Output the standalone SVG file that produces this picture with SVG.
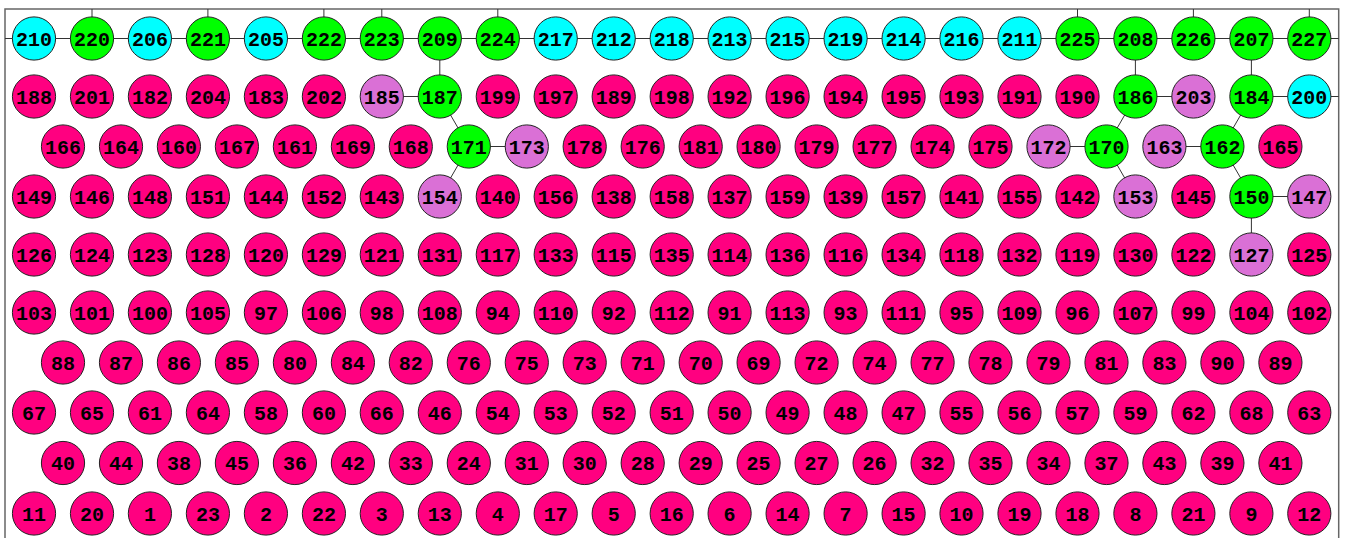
<svg xmlns="http://www.w3.org/2000/svg" width="1345" height="538" viewBox="0 0 1345 538">
<style>
.n circle{stroke:#222;stroke-width:1}
.n text{font-family:"Liberation Mono","Courier New",monospace;font-weight:bold;font-size:20px;text-anchor:middle;fill:#000}
.cy circle{fill:#00ffff}
.gr circle{fill:#00ff00}
.pk circle{fill:#ff0080}
.or circle{fill:#da70d6}
#edges line{stroke:#333;stroke-width:1}
</style>
<rect width="1345" height="538" fill="#fff"/>
<path id="border" d="M5,545 V9 H1338.7 V545" fill="none" stroke="#666" stroke-width="1.5"/>
<g id="edges">
<line x1="5" y1="38.5" x2="1338.7" y2="38.5"/>
<line x1="92" y1="9" x2="92" y2="38.5"/>
<line x1="207.9" y1="9" x2="207.9" y2="38.5"/>
<line x1="323.9" y1="9" x2="323.9" y2="38.5"/>
<line x1="381.8" y1="9" x2="381.8" y2="38.5"/>
<line x1="497.8" y1="9" x2="497.8" y2="38.5"/>
<line x1="1077.5" y1="9" x2="1077.5" y2="38.5"/>
<line x1="1193.4" y1="9" x2="1193.4" y2="38.5"/>
<line x1="1309.3" y1="9" x2="1309.3" y2="38.5"/>
<line x1="439.8" y1="38.5" x2="439.8" y2="96.5"/>
<line x1="1135.4" y1="38.5" x2="1135.4" y2="96.5"/>
<line x1="1251.4" y1="38.5" x2="1251.4" y2="96.5"/>
<line x1="1251.4" y1="196.5" x2="1251.4" y2="254.5"/>
<line x1="381.8" y1="96.5" x2="439.8" y2="96.5"/>
<line x1="468.8" y1="146.5" x2="526.8" y2="146.5"/>
<line x1="1135.4" y1="96.5" x2="1193.4" y2="96.5"/>
<line x1="1048.5" y1="146.5" x2="1106.5" y2="146.5"/>
<line x1="1251.4" y1="96.5" x2="1338.7" y2="96.5"/>
<line x1="1164.4" y1="146.5" x2="1222.4" y2="146.5"/>
<line x1="1251.4" y1="196.5" x2="1309.3" y2="196.5"/>
<line x1="439.8" y1="96.5" x2="468.8" y2="146.5"/>
<line x1="468.8" y1="146.5" x2="439.8" y2="196.5"/>
<line x1="1135.4" y1="96.5" x2="1106.5" y2="146.5"/>
<line x1="1106.5" y1="146.5" x2="1135.4" y2="196.5"/>
<line x1="1251.4" y1="96.5" x2="1222.4" y2="146.5"/>
<line x1="1222.4" y1="146.5" x2="1251.4" y2="196.5"/>
</g>
<g id="nodes">
<g id="n210" class="n cy"><circle cx="34" cy="38.5" r="21.6"/><text x="34" y="45.5">210</text></g>
<g id="n220" class="n gr"><circle cx="92" cy="38.5" r="21.6"/><text x="92" y="45.5">220</text></g>
<g id="n206" class="n cy"><circle cx="149.9" cy="38.5" r="21.6"/><text x="149.9" y="45.5">206</text></g>
<g id="n221" class="n gr"><circle cx="207.9" cy="38.5" r="21.6"/><text x="207.9" y="45.5">221</text></g>
<g id="n205" class="n cy"><circle cx="265.9" cy="38.5" r="21.6"/><text x="265.9" y="45.5">205</text></g>
<g id="n222" class="n gr"><circle cx="323.9" cy="38.5" r="21.6"/><text x="323.9" y="45.5">222</text></g>
<g id="n223" class="n gr"><circle cx="381.8" cy="38.5" r="21.6"/><text x="381.8" y="45.5">223</text></g>
<g id="n209" class="n gr"><circle cx="439.8" cy="38.5" r="21.6"/><text x="439.8" y="45.5">209</text></g>
<g id="n224" class="n gr"><circle cx="497.8" cy="38.5" r="21.6"/><text x="497.8" y="45.5">224</text></g>
<g id="n217" class="n cy"><circle cx="555.7" cy="38.5" r="21.6"/><text x="555.7" y="45.5">217</text></g>
<g id="n212" class="n cy"><circle cx="613.7" cy="38.5" r="21.6"/><text x="613.7" y="45.5">212</text></g>
<g id="n218" class="n cy"><circle cx="671.7" cy="38.5" r="21.6"/><text x="671.7" y="45.5">218</text></g>
<g id="n213" class="n cy"><circle cx="729.6" cy="38.5" r="21.6"/><text x="729.6" y="45.5">213</text></g>
<g id="n215" class="n cy"><circle cx="787.6" cy="38.5" r="21.6"/><text x="787.6" y="45.5">215</text></g>
<g id="n219" class="n cy"><circle cx="845.6" cy="38.5" r="21.6"/><text x="845.6" y="45.5">219</text></g>
<g id="n214" class="n cy"><circle cx="903.6" cy="38.5" r="21.6"/><text x="903.6" y="45.5">214</text></g>
<g id="n216" class="n cy"><circle cx="961.5" cy="38.5" r="21.6"/><text x="961.5" y="45.5">216</text></g>
<g id="n211" class="n cy"><circle cx="1019.5" cy="38.5" r="21.6"/><text x="1019.5" y="45.5">211</text></g>
<g id="n225" class="n gr"><circle cx="1077.5" cy="38.5" r="21.6"/><text x="1077.5" y="45.5">225</text></g>
<g id="n208" class="n gr"><circle cx="1135.4" cy="38.5" r="21.6"/><text x="1135.4" y="45.5">208</text></g>
<g id="n226" class="n gr"><circle cx="1193.4" cy="38.5" r="21.6"/><text x="1193.4" y="45.5">226</text></g>
<g id="n207" class="n gr"><circle cx="1251.4" cy="38.5" r="21.6"/><text x="1251.4" y="45.5">207</text></g>
<g id="n227" class="n gr"><circle cx="1309.3" cy="38.5" r="21.6"/><text x="1309.3" y="45.5">227</text></g>

<g id="n188" class="n pk"><circle cx="34" cy="96.5" r="21.6"/><text x="34" y="103.5">188</text></g>
<g id="n201" class="n pk"><circle cx="92" cy="96.5" r="21.6"/><text x="92" y="103.5">201</text></g>
<g id="n182" class="n pk"><circle cx="149.9" cy="96.5" r="21.6"/><text x="149.9" y="103.5">182</text></g>
<g id="n204" class="n pk"><circle cx="207.9" cy="96.5" r="21.6"/><text x="207.9" y="103.5">204</text></g>
<g id="n183" class="n pk"><circle cx="265.9" cy="96.5" r="21.6"/><text x="265.9" y="103.5">183</text></g>
<g id="n202" class="n pk"><circle cx="323.9" cy="96.5" r="21.6"/><text x="323.9" y="103.5">202</text></g>
<g id="n185" class="n or"><circle cx="381.8" cy="96.5" r="21.6"/><text x="381.8" y="103.5">185</text></g>
<g id="n187" class="n gr"><circle cx="439.8" cy="96.5" r="21.6"/><text x="439.8" y="103.5">187</text></g>
<g id="n199" class="n pk"><circle cx="497.8" cy="96.5" r="21.6"/><text x="497.8" y="103.5">199</text></g>
<g id="n197" class="n pk"><circle cx="555.7" cy="96.5" r="21.6"/><text x="555.7" y="103.5">197</text></g>
<g id="n189" class="n pk"><circle cx="613.7" cy="96.5" r="21.6"/><text x="613.7" y="103.5">189</text></g>
<g id="n198" class="n pk"><circle cx="671.7" cy="96.5" r="21.6"/><text x="671.7" y="103.5">198</text></g>
<g id="n192" class="n pk"><circle cx="729.6" cy="96.5" r="21.6"/><text x="729.6" y="103.5">192</text></g>
<g id="n196" class="n pk"><circle cx="787.6" cy="96.5" r="21.6"/><text x="787.6" y="103.5">196</text></g>
<g id="n194" class="n pk"><circle cx="845.6" cy="96.5" r="21.6"/><text x="845.6" y="103.5">194</text></g>
<g id="n195" class="n pk"><circle cx="903.6" cy="96.5" r="21.6"/><text x="903.6" y="103.5">195</text></g>
<g id="n193" class="n pk"><circle cx="961.5" cy="96.5" r="21.6"/><text x="961.5" y="103.5">193</text></g>
<g id="n191" class="n pk"><circle cx="1019.5" cy="96.5" r="21.6"/><text x="1019.5" y="103.5">191</text></g>
<g id="n190" class="n pk"><circle cx="1077.5" cy="96.5" r="21.6"/><text x="1077.5" y="103.5">190</text></g>
<g id="n186" class="n gr"><circle cx="1135.4" cy="96.5" r="21.6"/><text x="1135.4" y="103.5">186</text></g>
<g id="n203" class="n or"><circle cx="1193.4" cy="96.5" r="21.6"/><text x="1193.4" y="103.5">203</text></g>
<g id="n184" class="n gr"><circle cx="1251.4" cy="96.5" r="21.6"/><text x="1251.4" y="103.5">184</text></g>
<g id="n200" class="n cy"><circle cx="1309.3" cy="96.5" r="21.6"/><text x="1309.3" y="103.5">200</text></g>

<g id="n166" class="n pk"><circle cx="63" cy="146.5" r="21.6"/><text x="63" y="153.5">166</text></g>
<g id="n164" class="n pk"><circle cx="121" cy="146.5" r="21.6"/><text x="121" y="153.5">164</text></g>
<g id="n160" class="n pk"><circle cx="178.9" cy="146.5" r="21.6"/><text x="178.9" y="153.5">160</text></g>
<g id="n167" class="n pk"><circle cx="236.9" cy="146.5" r="21.6"/><text x="236.9" y="153.5">167</text></g>
<g id="n161" class="n pk"><circle cx="294.9" cy="146.5" r="21.6"/><text x="294.9" y="153.5">161</text></g>
<g id="n169" class="n pk"><circle cx="352.9" cy="146.5" r="21.6"/><text x="352.9" y="153.5">169</text></g>
<g id="n168" class="n pk"><circle cx="410.8" cy="146.5" r="21.6"/><text x="410.8" y="153.5">168</text></g>
<g id="n171" class="n gr"><circle cx="468.8" cy="146.5" r="21.6"/><text x="468.8" y="153.5">171</text></g>
<g id="n173" class="n or"><circle cx="526.8" cy="146.5" r="21.6"/><text x="526.8" y="153.5">173</text></g>
<g id="n178" class="n pk"><circle cx="584.7" cy="146.5" r="21.6"/><text x="584.7" y="153.5">178</text></g>
<g id="n176" class="n pk"><circle cx="642.7" cy="146.5" r="21.6"/><text x="642.7" y="153.5">176</text></g>
<g id="n181" class="n pk"><circle cx="700.7" cy="146.5" r="21.6"/><text x="700.7" y="153.5">181</text></g>
<g id="n180" class="n pk"><circle cx="758.6" cy="146.5" r="21.6"/><text x="758.6" y="153.5">180</text></g>
<g id="n179" class="n pk"><circle cx="816.6" cy="146.5" r="21.6"/><text x="816.6" y="153.5">179</text></g>
<g id="n177" class="n pk"><circle cx="874.6" cy="146.5" r="21.6"/><text x="874.6" y="153.5">177</text></g>
<g id="n174" class="n pk"><circle cx="932.6" cy="146.5" r="21.6"/><text x="932.6" y="153.5">174</text></g>
<g id="n175" class="n pk"><circle cx="990.5" cy="146.5" r="21.6"/><text x="990.5" y="153.5">175</text></g>
<g id="n172" class="n or"><circle cx="1048.5" cy="146.5" r="21.6"/><text x="1048.5" y="153.5">172</text></g>
<g id="n170" class="n gr"><circle cx="1106.5" cy="146.5" r="21.6"/><text x="1106.5" y="153.5">170</text></g>
<g id="n163" class="n or"><circle cx="1164.4" cy="146.5" r="21.6"/><text x="1164.4" y="153.5">163</text></g>
<g id="n162" class="n gr"><circle cx="1222.4" cy="146.5" r="21.6"/><text x="1222.4" y="153.5">162</text></g>
<g id="n165" class="n pk"><circle cx="1280.4" cy="146.5" r="21.6"/><text x="1280.4" y="153.5">165</text></g>

<g id="n149" class="n pk"><circle cx="34" cy="196.5" r="21.6"/><text x="34" y="203.5">149</text></g>
<g id="n146" class="n pk"><circle cx="92" cy="196.5" r="21.6"/><text x="92" y="203.5">146</text></g>
<g id="n148" class="n pk"><circle cx="149.9" cy="196.5" r="21.6"/><text x="149.9" y="203.5">148</text></g>
<g id="n151" class="n pk"><circle cx="207.9" cy="196.5" r="21.6"/><text x="207.9" y="203.5">151</text></g>
<g id="n144" class="n pk"><circle cx="265.9" cy="196.5" r="21.6"/><text x="265.9" y="203.5">144</text></g>
<g id="n152" class="n pk"><circle cx="323.9" cy="196.5" r="21.6"/><text x="323.9" y="203.5">152</text></g>
<g id="n143" class="n pk"><circle cx="381.8" cy="196.5" r="21.6"/><text x="381.8" y="203.5">143</text></g>
<g id="n154" class="n or"><circle cx="439.8" cy="196.5" r="21.6"/><text x="439.8" y="203.5">154</text></g>
<g id="n140" class="n pk"><circle cx="497.8" cy="196.5" r="21.6"/><text x="497.8" y="203.5">140</text></g>
<g id="n156" class="n pk"><circle cx="555.7" cy="196.5" r="21.6"/><text x="555.7" y="203.5">156</text></g>
<g id="n138" class="n pk"><circle cx="613.7" cy="196.5" r="21.6"/><text x="613.7" y="203.5">138</text></g>
<g id="n158" class="n pk"><circle cx="671.7" cy="196.5" r="21.6"/><text x="671.7" y="203.5">158</text></g>
<g id="n137" class="n pk"><circle cx="729.6" cy="196.5" r="21.6"/><text x="729.6" y="203.5">137</text></g>
<g id="n159" class="n pk"><circle cx="787.6" cy="196.5" r="21.6"/><text x="787.6" y="203.5">159</text></g>
<g id="n139" class="n pk"><circle cx="845.6" cy="196.5" r="21.6"/><text x="845.6" y="203.5">139</text></g>
<g id="n157" class="n pk"><circle cx="903.6" cy="196.5" r="21.6"/><text x="903.6" y="203.5">157</text></g>
<g id="n141" class="n pk"><circle cx="961.5" cy="196.5" r="21.6"/><text x="961.5" y="203.5">141</text></g>
<g id="n155" class="n pk"><circle cx="1019.5" cy="196.5" r="21.6"/><text x="1019.5" y="203.5">155</text></g>
<g id="n142" class="n pk"><circle cx="1077.5" cy="196.5" r="21.6"/><text x="1077.5" y="203.5">142</text></g>
<g id="n153" class="n or"><circle cx="1135.4" cy="196.5" r="21.6"/><text x="1135.4" y="203.5">153</text></g>
<g id="n145" class="n pk"><circle cx="1193.4" cy="196.5" r="21.6"/><text x="1193.4" y="203.5">145</text></g>
<g id="n150" class="n gr"><circle cx="1251.4" cy="196.5" r="21.6"/><text x="1251.4" y="203.5">150</text></g>
<g id="n147" class="n or"><circle cx="1309.3" cy="196.5" r="21.6"/><text x="1309.3" y="203.5">147</text></g>

<g id="n126" class="n pk"><circle cx="34" cy="254.5" r="21.6"/><text x="34" y="261.5">126</text></g>
<g id="n124" class="n pk"><circle cx="92" cy="254.5" r="21.6"/><text x="92" y="261.5">124</text></g>
<g id="n123" class="n pk"><circle cx="149.9" cy="254.5" r="21.6"/><text x="149.9" y="261.5">123</text></g>
<g id="n128" class="n pk"><circle cx="207.9" cy="254.5" r="21.6"/><text x="207.9" y="261.5">128</text></g>
<g id="n120" class="n pk"><circle cx="265.9" cy="254.5" r="21.6"/><text x="265.9" y="261.5">120</text></g>
<g id="n129" class="n pk"><circle cx="323.9" cy="254.5" r="21.6"/><text x="323.9" y="261.5">129</text></g>
<g id="n121" class="n pk"><circle cx="381.8" cy="254.5" r="21.6"/><text x="381.8" y="261.5">121</text></g>
<g id="n131" class="n pk"><circle cx="439.8" cy="254.5" r="21.6"/><text x="439.8" y="261.5">131</text></g>
<g id="n117" class="n pk"><circle cx="497.8" cy="254.5" r="21.6"/><text x="497.8" y="261.5">117</text></g>
<g id="n133" class="n pk"><circle cx="555.7" cy="254.5" r="21.6"/><text x="555.7" y="261.5">133</text></g>
<g id="n115" class="n pk"><circle cx="613.7" cy="254.5" r="21.6"/><text x="613.7" y="261.5">115</text></g>
<g id="n135" class="n pk"><circle cx="671.7" cy="254.5" r="21.6"/><text x="671.7" y="261.5">135</text></g>
<g id="n114" class="n pk"><circle cx="729.6" cy="254.5" r="21.6"/><text x="729.6" y="261.5">114</text></g>
<g id="n136" class="n pk"><circle cx="787.6" cy="254.5" r="21.6"/><text x="787.6" y="261.5">136</text></g>
<g id="n116" class="n pk"><circle cx="845.6" cy="254.5" r="21.6"/><text x="845.6" y="261.5">116</text></g>
<g id="n134" class="n pk"><circle cx="903.6" cy="254.5" r="21.6"/><text x="903.6" y="261.5">134</text></g>
<g id="n118" class="n pk"><circle cx="961.5" cy="254.5" r="21.6"/><text x="961.5" y="261.5">118</text></g>
<g id="n132" class="n pk"><circle cx="1019.5" cy="254.5" r="21.6"/><text x="1019.5" y="261.5">132</text></g>
<g id="n119" class="n pk"><circle cx="1077.5" cy="254.5" r="21.6"/><text x="1077.5" y="261.5">119</text></g>
<g id="n130" class="n pk"><circle cx="1135.4" cy="254.5" r="21.6"/><text x="1135.4" y="261.5">130</text></g>
<g id="n122" class="n pk"><circle cx="1193.4" cy="254.5" r="21.6"/><text x="1193.4" y="261.5">122</text></g>
<g id="n127" class="n or"><circle cx="1251.4" cy="254.5" r="21.6"/><text x="1251.4" y="261.5">127</text></g>
<g id="n125" class="n pk"><circle cx="1309.3" cy="254.5" r="21.6"/><text x="1309.3" y="261.5">125</text></g>

<g id="n103" class="n pk"><circle cx="34" cy="312.5" r="21.6"/><text x="34" y="319.5">103</text></g>
<g id="n101" class="n pk"><circle cx="92" cy="312.5" r="21.6"/><text x="92" y="319.5">101</text></g>
<g id="n100" class="n pk"><circle cx="149.9" cy="312.5" r="21.6"/><text x="149.9" y="319.5">100</text></g>
<g id="n105" class="n pk"><circle cx="207.9" cy="312.5" r="21.6"/><text x="207.9" y="319.5">105</text></g>
<g id="n97" class="n pk"><circle cx="265.9" cy="312.5" r="21.6"/><text x="265.9" y="319.5">97</text></g>
<g id="n106" class="n pk"><circle cx="323.9" cy="312.5" r="21.6"/><text x="323.9" y="319.5">106</text></g>
<g id="n98" class="n pk"><circle cx="381.8" cy="312.5" r="21.6"/><text x="381.8" y="319.5">98</text></g>
<g id="n108" class="n pk"><circle cx="439.8" cy="312.5" r="21.6"/><text x="439.8" y="319.5">108</text></g>
<g id="n94" class="n pk"><circle cx="497.8" cy="312.5" r="21.6"/><text x="497.8" y="319.5">94</text></g>
<g id="n110" class="n pk"><circle cx="555.7" cy="312.5" r="21.6"/><text x="555.7" y="319.5">110</text></g>
<g id="n92" class="n pk"><circle cx="613.7" cy="312.5" r="21.6"/><text x="613.7" y="319.5">92</text></g>
<g id="n112" class="n pk"><circle cx="671.7" cy="312.5" r="21.6"/><text x="671.7" y="319.5">112</text></g>
<g id="n91" class="n pk"><circle cx="729.6" cy="312.5" r="21.6"/><text x="729.6" y="319.5">91</text></g>
<g id="n113" class="n pk"><circle cx="787.6" cy="312.5" r="21.6"/><text x="787.6" y="319.5">113</text></g>
<g id="n93" class="n pk"><circle cx="845.6" cy="312.5" r="21.6"/><text x="845.6" y="319.5">93</text></g>
<g id="n111" class="n pk"><circle cx="903.6" cy="312.5" r="21.6"/><text x="903.6" y="319.5">111</text></g>
<g id="n95" class="n pk"><circle cx="961.5" cy="312.5" r="21.6"/><text x="961.5" y="319.5">95</text></g>
<g id="n109" class="n pk"><circle cx="1019.5" cy="312.5" r="21.6"/><text x="1019.5" y="319.5">109</text></g>
<g id="n96" class="n pk"><circle cx="1077.5" cy="312.5" r="21.6"/><text x="1077.5" y="319.5">96</text></g>
<g id="n107" class="n pk"><circle cx="1135.4" cy="312.5" r="21.6"/><text x="1135.4" y="319.5">107</text></g>
<g id="n99" class="n pk"><circle cx="1193.4" cy="312.5" r="21.6"/><text x="1193.4" y="319.5">99</text></g>
<g id="n104" class="n pk"><circle cx="1251.4" cy="312.5" r="21.6"/><text x="1251.4" y="319.5">104</text></g>
<g id="n102" class="n pk"><circle cx="1309.3" cy="312.5" r="21.6"/><text x="1309.3" y="319.5">102</text></g>

<g id="n88" class="n pk"><circle cx="63" cy="362.5" r="21.6"/><text x="63" y="369.5">88</text></g>
<g id="n87" class="n pk"><circle cx="121" cy="362.5" r="21.6"/><text x="121" y="369.5">87</text></g>
<g id="n86" class="n pk"><circle cx="178.9" cy="362.5" r="21.6"/><text x="178.9" y="369.5">86</text></g>
<g id="n85" class="n pk"><circle cx="236.9" cy="362.5" r="21.6"/><text x="236.9" y="369.5">85</text></g>
<g id="n80" class="n pk"><circle cx="294.9" cy="362.5" r="21.6"/><text x="294.9" y="369.5">80</text></g>
<g id="n84" class="n pk"><circle cx="352.9" cy="362.5" r="21.6"/><text x="352.9" y="369.5">84</text></g>
<g id="n82" class="n pk"><circle cx="410.8" cy="362.5" r="21.6"/><text x="410.8" y="369.5">82</text></g>
<g id="n76" class="n pk"><circle cx="468.8" cy="362.5" r="21.6"/><text x="468.8" y="369.5">76</text></g>
<g id="n75" class="n pk"><circle cx="526.8" cy="362.5" r="21.6"/><text x="526.8" y="369.5">75</text></g>
<g id="n73" class="n pk"><circle cx="584.7" cy="362.5" r="21.6"/><text x="584.7" y="369.5">73</text></g>
<g id="n71" class="n pk"><circle cx="642.7" cy="362.5" r="21.6"/><text x="642.7" y="369.5">71</text></g>
<g id="n70" class="n pk"><circle cx="700.7" cy="362.5" r="21.6"/><text x="700.7" y="369.5">70</text></g>
<g id="n69" class="n pk"><circle cx="758.6" cy="362.5" r="21.6"/><text x="758.6" y="369.5">69</text></g>
<g id="n72" class="n pk"><circle cx="816.6" cy="362.5" r="21.6"/><text x="816.6" y="369.5">72</text></g>
<g id="n74" class="n pk"><circle cx="874.6" cy="362.5" r="21.6"/><text x="874.6" y="369.5">74</text></g>
<g id="n77" class="n pk"><circle cx="932.6" cy="362.5" r="21.6"/><text x="932.6" y="369.5">77</text></g>
<g id="n78" class="n pk"><circle cx="990.5" cy="362.5" r="21.6"/><text x="990.5" y="369.5">78</text></g>
<g id="n79" class="n pk"><circle cx="1048.5" cy="362.5" r="21.6"/><text x="1048.5" y="369.5">79</text></g>
<g id="n81" class="n pk"><circle cx="1106.5" cy="362.5" r="21.6"/><text x="1106.5" y="369.5">81</text></g>
<g id="n83" class="n pk"><circle cx="1164.4" cy="362.5" r="21.6"/><text x="1164.4" y="369.5">83</text></g>
<g id="n90" class="n pk"><circle cx="1222.4" cy="362.5" r="21.6"/><text x="1222.4" y="369.5">90</text></g>
<g id="n89" class="n pk"><circle cx="1280.4" cy="362.5" r="21.6"/><text x="1280.4" y="369.5">89</text></g>

<g id="n67" class="n pk"><circle cx="34" cy="412.5" r="21.6"/><text x="34" y="419.5">67</text></g>
<g id="n65" class="n pk"><circle cx="92" cy="412.5" r="21.6"/><text x="92" y="419.5">65</text></g>
<g id="n61" class="n pk"><circle cx="149.9" cy="412.5" r="21.6"/><text x="149.9" y="419.5">61</text></g>
<g id="n64" class="n pk"><circle cx="207.9" cy="412.5" r="21.6"/><text x="207.9" y="419.5">64</text></g>
<g id="n58" class="n pk"><circle cx="265.9" cy="412.5" r="21.6"/><text x="265.9" y="419.5">58</text></g>
<g id="n60" class="n pk"><circle cx="323.9" cy="412.5" r="21.6"/><text x="323.9" y="419.5">60</text></g>
<g id="n66" class="n pk"><circle cx="381.8" cy="412.5" r="21.6"/><text x="381.8" y="419.5">66</text></g>
<g id="n46" class="n pk"><circle cx="439.8" cy="412.5" r="21.6"/><text x="439.8" y="419.5">46</text></g>
<g id="n54" class="n pk"><circle cx="497.8" cy="412.5" r="21.6"/><text x="497.8" y="419.5">54</text></g>
<g id="n53" class="n pk"><circle cx="555.7" cy="412.5" r="21.6"/><text x="555.7" y="419.5">53</text></g>
<g id="n52" class="n pk"><circle cx="613.7" cy="412.5" r="21.6"/><text x="613.7" y="419.5">52</text></g>
<g id="n51" class="n pk"><circle cx="671.7" cy="412.5" r="21.6"/><text x="671.7" y="419.5">51</text></g>
<g id="n50" class="n pk"><circle cx="729.6" cy="412.5" r="21.6"/><text x="729.6" y="419.5">50</text></g>
<g id="n49" class="n pk"><circle cx="787.6" cy="412.5" r="21.6"/><text x="787.6" y="419.5">49</text></g>
<g id="n48" class="n pk"><circle cx="845.6" cy="412.5" r="21.6"/><text x="845.6" y="419.5">48</text></g>
<g id="n47" class="n pk"><circle cx="903.6" cy="412.5" r="21.6"/><text x="903.6" y="419.5">47</text></g>
<g id="n55" class="n pk"><circle cx="961.5" cy="412.5" r="21.6"/><text x="961.5" y="419.5">55</text></g>
<g id="n56" class="n pk"><circle cx="1019.5" cy="412.5" r="21.6"/><text x="1019.5" y="419.5">56</text></g>
<g id="n57" class="n pk"><circle cx="1077.5" cy="412.5" r="21.6"/><text x="1077.5" y="419.5">57</text></g>
<g id="n59" class="n pk"><circle cx="1135.4" cy="412.5" r="21.6"/><text x="1135.4" y="419.5">59</text></g>
<g id="n62" class="n pk"><circle cx="1193.4" cy="412.5" r="21.6"/><text x="1193.4" y="419.5">62</text></g>
<g id="n68" class="n pk"><circle cx="1251.4" cy="412.5" r="21.6"/><text x="1251.4" y="419.5">68</text></g>
<g id="n63" class="n pk"><circle cx="1309.3" cy="412.5" r="21.6"/><text x="1309.3" y="419.5">63</text></g>

<g id="n40" class="n pk"><circle cx="63" cy="463" r="21.6"/><text x="63" y="470">40</text></g>
<g id="n44" class="n pk"><circle cx="121" cy="463" r="21.6"/><text x="121" y="470">44</text></g>
<g id="n38" class="n pk"><circle cx="178.9" cy="463" r="21.6"/><text x="178.9" y="470">38</text></g>
<g id="n45" class="n pk"><circle cx="236.9" cy="463" r="21.6"/><text x="236.9" y="470">45</text></g>
<g id="n36" class="n pk"><circle cx="294.9" cy="463" r="21.6"/><text x="294.9" y="470">36</text></g>
<g id="n42" class="n pk"><circle cx="352.9" cy="463" r="21.6"/><text x="352.9" y="470">42</text></g>
<g id="n33" class="n pk"><circle cx="410.8" cy="463" r="21.6"/><text x="410.8" y="470">33</text></g>
<g id="n24" class="n pk"><circle cx="468.8" cy="463" r="21.6"/><text x="468.8" y="470">24</text></g>
<g id="n31" class="n pk"><circle cx="526.8" cy="463" r="21.6"/><text x="526.8" y="470">31</text></g>
<g id="n30" class="n pk"><circle cx="584.7" cy="463" r="21.6"/><text x="584.7" y="470">30</text></g>
<g id="n28" class="n pk"><circle cx="642.7" cy="463" r="21.6"/><text x="642.7" y="470">28</text></g>
<g id="n29" class="n pk"><circle cx="700.7" cy="463" r="21.6"/><text x="700.7" y="470">29</text></g>
<g id="n25" class="n pk"><circle cx="758.6" cy="463" r="21.6"/><text x="758.6" y="470">25</text></g>
<g id="n27" class="n pk"><circle cx="816.6" cy="463" r="21.6"/><text x="816.6" y="470">27</text></g>
<g id="n26" class="n pk"><circle cx="874.6" cy="463" r="21.6"/><text x="874.6" y="470">26</text></g>
<g id="n32" class="n pk"><circle cx="932.6" cy="463" r="21.6"/><text x="932.6" y="470">32</text></g>
<g id="n35" class="n pk"><circle cx="990.5" cy="463" r="21.6"/><text x="990.5" y="470">35</text></g>
<g id="n34" class="n pk"><circle cx="1048.5" cy="463" r="21.6"/><text x="1048.5" y="470">34</text></g>
<g id="n37" class="n pk"><circle cx="1106.5" cy="463" r="21.6"/><text x="1106.5" y="470">37</text></g>
<g id="n43" class="n pk"><circle cx="1164.4" cy="463" r="21.6"/><text x="1164.4" y="470">43</text></g>
<g id="n39" class="n pk"><circle cx="1222.4" cy="463" r="21.6"/><text x="1222.4" y="470">39</text></g>
<g id="n41" class="n pk"><circle cx="1280.4" cy="463" r="21.6"/><text x="1280.4" y="470">41</text></g>

<g id="n11" class="n pk"><circle cx="34" cy="513.5" r="21.6"/><text x="34" y="520.5">11</text></g>
<g id="n20" class="n pk"><circle cx="92" cy="513.5" r="21.6"/><text x="92" y="520.5">20</text></g>
<g id="n1" class="n pk"><circle cx="149.9" cy="513.5" r="21.6"/><text x="149.9" y="520.5">1</text></g>
<g id="n23" class="n pk"><circle cx="207.9" cy="513.5" r="21.6"/><text x="207.9" y="520.5">23</text></g>
<g id="n2" class="n pk"><circle cx="265.9" cy="513.5" r="21.6"/><text x="265.9" y="520.5">2</text></g>
<g id="n22" class="n pk"><circle cx="323.9" cy="513.5" r="21.6"/><text x="323.9" y="520.5">22</text></g>
<g id="n3" class="n pk"><circle cx="381.8" cy="513.5" r="21.6"/><text x="381.8" y="520.5">3</text></g>
<g id="n13" class="n pk"><circle cx="439.8" cy="513.5" r="21.6"/><text x="439.8" y="520.5">13</text></g>
<g id="n4" class="n pk"><circle cx="497.8" cy="513.5" r="21.6"/><text x="497.8" y="520.5">4</text></g>
<g id="n17" class="n pk"><circle cx="555.7" cy="513.5" r="21.6"/><text x="555.7" y="520.5">17</text></g>
<g id="n5" class="n pk"><circle cx="613.7" cy="513.5" r="21.6"/><text x="613.7" y="520.5">5</text></g>
<g id="n16" class="n pk"><circle cx="671.7" cy="513.5" r="21.6"/><text x="671.7" y="520.5">16</text></g>
<g id="n6" class="n pk"><circle cx="729.6" cy="513.5" r="21.6"/><text x="729.6" y="520.5">6</text></g>
<g id="n14" class="n pk"><circle cx="787.6" cy="513.5" r="21.6"/><text x="787.6" y="520.5">14</text></g>
<g id="n7" class="n pk"><circle cx="845.6" cy="513.5" r="21.6"/><text x="845.6" y="520.5">7</text></g>
<g id="n15" class="n pk"><circle cx="903.6" cy="513.5" r="21.6"/><text x="903.6" y="520.5">15</text></g>
<g id="n10" class="n pk"><circle cx="961.5" cy="513.5" r="21.6"/><text x="961.5" y="520.5">10</text></g>
<g id="n19" class="n pk"><circle cx="1019.5" cy="513.5" r="21.6"/><text x="1019.5" y="520.5">19</text></g>
<g id="n18" class="n pk"><circle cx="1077.5" cy="513.5" r="21.6"/><text x="1077.5" y="520.5">18</text></g>
<g id="n8" class="n pk"><circle cx="1135.4" cy="513.5" r="21.6"/><text x="1135.4" y="520.5">8</text></g>
<g id="n21" class="n pk"><circle cx="1193.4" cy="513.5" r="21.6"/><text x="1193.4" y="520.5">21</text></g>
<g id="n9" class="n pk"><circle cx="1251.4" cy="513.5" r="21.6"/><text x="1251.4" y="520.5">9</text></g>
<g id="n12" class="n pk"><circle cx="1309.3" cy="513.5" r="21.6"/><text x="1309.3" y="520.5">12</text></g>
</g>
</svg>
